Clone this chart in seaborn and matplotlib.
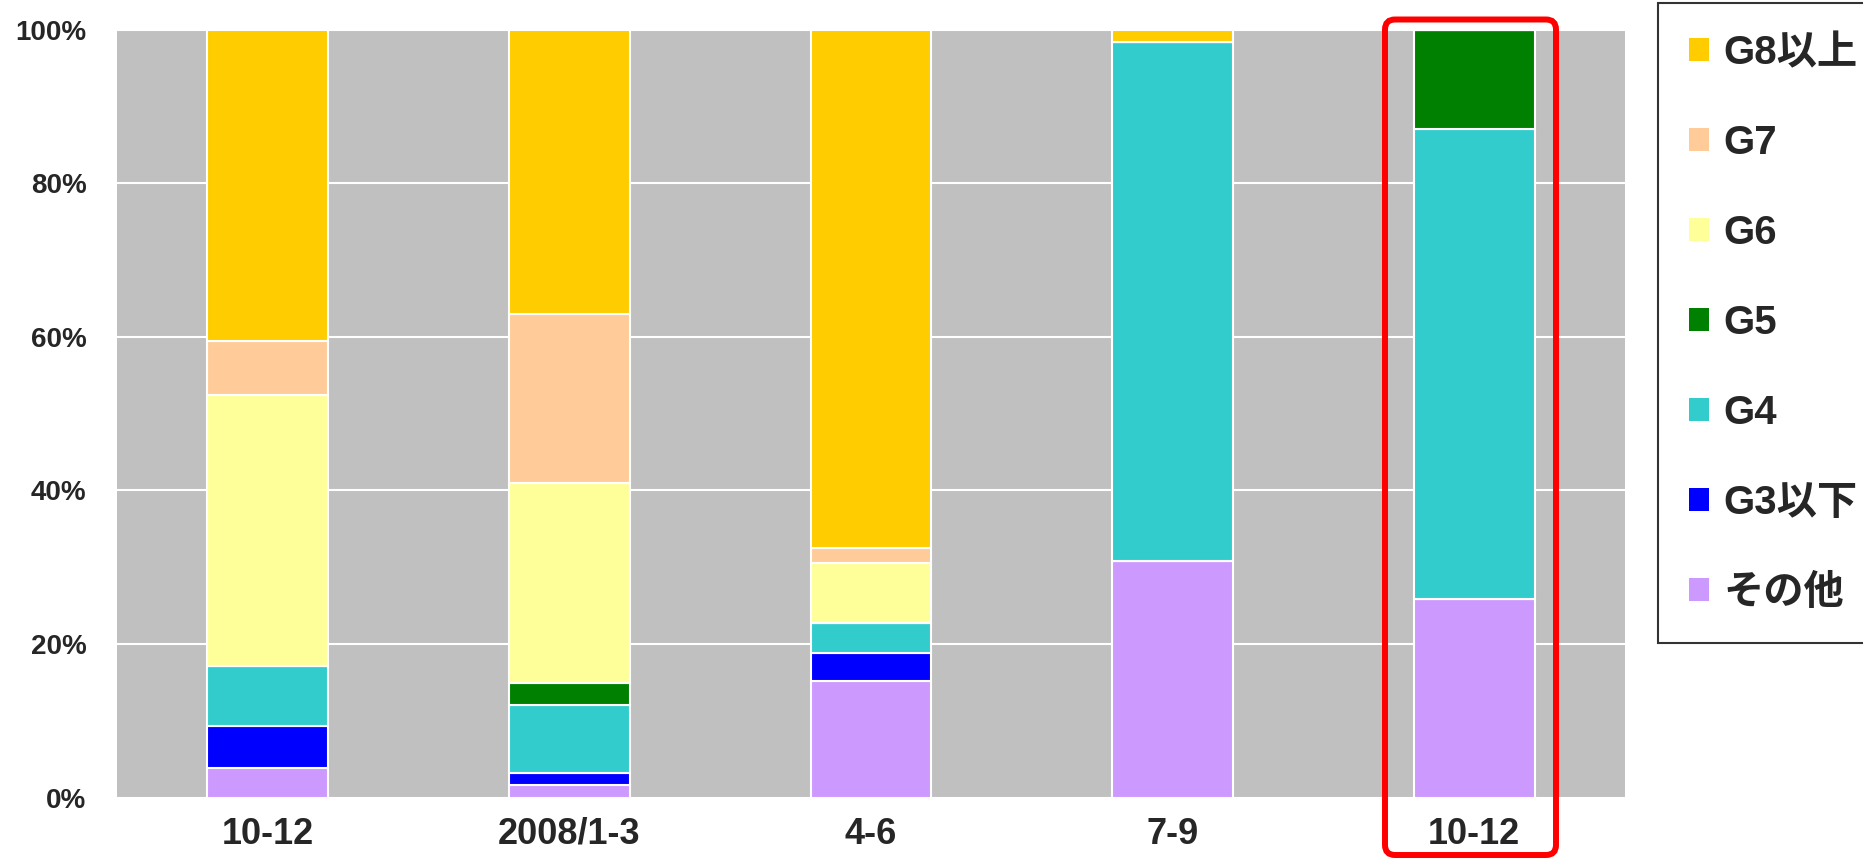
import numpy as np
import matplotlib
matplotlib.use("Agg")
import matplotlib.pyplot as plt
from matplotlib.patches import Patch, FancyBboxPatch
from matplotlib.transforms import IdentityTransform
from matplotlib.font_manager import FontProperties
import seaborn as sns

sns.set_style("white")
plt.rcParams["font.family"] = ["Liberation Sans", "Noto Sans CJK JP", "DejaVu Sans"]

# ------------------------------------------------------------------ data
periods = ["10-12", "2008/1-3", "4-6", "7-9", "10-12"]
series = ["その他", "G3以下", "G4", "G5", "G6", "G7", "G8以上"]
other = [3.8, 1.6, 15.2, 30.8, 25.8]
g3 = [5.5, 1.6, 3.6, 0.0, 0.0]
g4 = [7.8, 8.8, 3.9, 67.6, 61.2]
g5 = [0.0, 2.9, 0.0, 0.0, 13.0]
g6 = [35.3, 26.1, 7.9, 0.0, 0.0]
g7 = [7.0, 22.0, 1.9, 0.0, 0.0]
g8 = [40.6, 37.0, 67.5, 1.6, 0.0]
colors = ["#CC99FF", "#0000FF", "#33CCCC", "#008000", "#FFFF99", "#FFCC99", "#FFCC00"]
yticks = [0, 20, 40, 60, 80, 100]

W, H = 1863, 858
fig = plt.figure(figsize=(W / 100, H / 100), dpi=100)
ax = fig.add_axes([117 / W, 1 - 797.5 / H, (1625 - 117) / W, (797.5 - 29.6) / H])
ax.set_facecolor("#C0C0C0")

x = np.arange(len(periods))
bottom = np.zeros(len(periods))
for vals, col in zip([other, g3, g4, g5, g6, g7, g8], colors):
    vals = np.array(vals)
    sns.barplot(x=x, y=vals, bottom=bottom.copy(), color=col, saturation=1,
                width=0.4, edgecolor="white", linewidth=1.5, ax=ax)
    bottom += vals

ax.set_xlim(-0.5, len(periods) - 0.5)
ax.set_ylim(0, 100)
ax.set_yticks(yticks)
ax.set_yticklabels([f"{v}%" for v in yticks], fontsize=20, fontweight="bold")
ax.set_xticks(x)
ax.set_xticklabels(periods, fontsize=26, fontweight="bold")
ax.tick_params(axis="y", length=0, pad=22)
ax.tick_params(axis="x", length=0, pad=14)
ax.set_xlabel("")
ax.set_ylabel("")
ax.yaxis.grid(True, color="white", linewidth=1.5)
ax.xaxis.grid(False)
ax.set_axisbelow(True)
for s in ax.spines.values():
    s.set_visible(False)

# legend, top entry first
handles = [Patch(facecolor=c, edgecolor="none", label=n)
           for n, c in zip(series[::-1], colors[::-1])]
leg = fig.legend(handles=handles, loc="upper left",
                 bbox_to_anchor=(1658 / W, 1 - 3 / H), borderaxespad=0,
                 prop=FontProperties(family=["Liberation Sans", "Noto Sans CJK JP"],
                                     weight="bold", size=29),
                 handlelength=0.5, handleheight=0.5, handletextpad=0.35,
                 labelspacing=1.29, borderpad=0.77, fancybox=False, frameon=True)
leg.get_frame().set_edgecolor("black")
leg.get_frame().set_linewidth(1.5)

# red highlight around the last period
box = FancyBboxPatch((1385, H - 855), 1556 - 1385, 855 - 19.5,
                     boxstyle="round,pad=0,rounding_size=10",
                     transform=IdentityTransform(), facecolor="none",
                     edgecolor="#FF0000", linewidth=4.3, clip_on=False)
fig.add_artist(box)

fig.savefig("out.png", dpi=100)
